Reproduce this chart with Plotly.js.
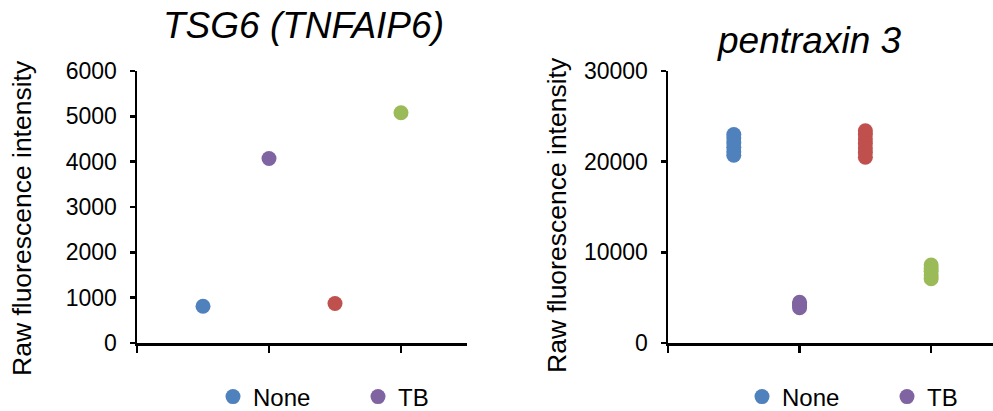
<!DOCTYPE html>
<html>
<head>
<meta charset="utf-8">
<script src="https://cdn.plot.ly/plotly-3.0.1.min.js"></script>
<style>html,body{margin:0;padding:0;background:#fff;}#chart{width:993px;height:411px;}</style>
</head>
<body>
<div id="chart"></div>
<script>
// ---- data ----
const groupNames = ["None", "TB", "None (group 2)", "TB (group 2)"];
const groupX = [0.5, 1, 1.5, 2];
const groupColors = ["#4F81BD", "#8064A2", "#C0504D", "#9BBB59"];
const legendShown = [true, true, false, false];

const tsg6Title = "TSG6 (TNFAIP6)";
const tsg6None = [810];
const tsg6TB = [4070];
const tsg6Group3 = [870];
const tsg6Group4 = [5080];

const ptx3Title = "pentraxin 3";
const ptx3None = [23000, 22600, 22100, 21600, 21100, 20700];
const ptx3TB = [4500, 4300, 4100, 3900];
const ptx3Group3 = [23400, 23000, 22500, 22000, 21500, 21000, 20500];
const ptx3Group4 = [8600, 8200, 7900, 7500, 7100];

const yTitle = "Raw fluorescence intensity";
const tsg6Ticks = [0, 1000, 2000, 3000, 4000, 5000, 6000];
const ptx3Ticks = [0, 10000, 20000, 30000];

// ---- build traces ----
const FONT = "Liberation Sans, Arial, sans-serif";
const traces = [];
const tsg6Sets = [tsg6None, tsg6TB, tsg6Group3, tsg6Group4];
const ptx3Sets = [ptx3None, ptx3TB, ptx3Group3, ptx3Group4];
tsg6Sets.forEach((vals, i) => {
  traces.push({
    type: "scatter", mode: "markers", name: groupNames[i],
    x: vals.map(() => groupX[i]), y: vals,
    xaxis: "x", yaxis: "y",
    marker: {color: groupColors[i], size: 15},
    showlegend: legendShown[i], legend: "legend"
  });
});
ptx3Sets.forEach((vals, i) => {
  traces.push({
    type: "scatter", mode: "markers", name: groupNames[i],
    x: vals.map(() => groupX[i]), y: vals,
    xaxis: "x2", yaxis: "y2",
    marker: {color: groupColors[i], size: 15},
    showlegend: legendShown[i], legend: "legend2"
  });
});

const W = 993, H = 411;
const px = v => v / W;
const py = v => (H - v) / H;

const xCommon = {
  showgrid: false, zeroline: false, showline: true, linecolor: "#000", linewidth: 2.5,
  ticks: "outside", ticklen: 7, tickwidth: 2.5, tickcolor: "#000",
  tickvals: [0, 1, 2], showticklabels: false, fixedrange: true
};
const yCommon = {
  showgrid: false, zeroline: false, showline: true, linecolor: "#000", linewidth: 2.5,
  ticks: "outside", ticklen: 5, tickwidth: 2.5, tickcolor: "#000",
  tickfont: {family: FONT, size: 23, color: "#000"}, ticklabelstandoff: 8,
  tickformat: "d", fixedrange: true
};
const legendCommon = {
  orientation: "h", font: {family: FONT, size: 24, color: "#000"},
  entrywidth: 100, entrywidthmode: "pixels", itemwidth: 30,
  bgcolor: "rgba(0,0,0,0)", xanchor: "left", yanchor: "middle"
};

const layout = {
  width: W, height: H,
  margin: {l: 0, r: 0, t: 0, b: 0, autoexpand: false},
  paper_bgcolor: "#fff", plot_bgcolor: "#fff",
  font: {family: FONT, color: "#000"},
  xaxis: Object.assign({}, xCommon, {domain: [px(137), px(467)], range: [0, 2.5], anchor: "y"}),
  yaxis: Object.assign({}, yCommon, {domain: [py(343), py(71)], range: [0, 6000], tickvals: tsg6Ticks, anchor: "x"}),
  xaxis2: Object.assign({}, xCommon, {domain: [px(668), 1], range: [0, 2.47], anchor: "y2"}),
  yaxis2: Object.assign({}, yCommon, {domain: [py(343), py(71)], range: [0, 30000], tickvals: ptx3Ticks, anchor: "x2"}),
  legend: Object.assign({}, legendCommon, {x: px(213), y: py(397)}),
  legend2: Object.assign({}, legendCommon, {x: px(742), y: py(397)}),
  annotations: [
    {text: tsg6Title, xref: "paper", yref: "paper", x: px(303), y: py(25), showarrow: false,
     font: {family: FONT, size: 37, style: "italic", color: "#000"}, xanchor: "center", yanchor: "middle"},
    {text: ptx3Title, xref: "paper", yref: "paper", x: px(809), y: py(41), showarrow: false,
     font: {family: FONT, size: 37, style: "italic", color: "#000"}, xanchor: "center", yanchor: "middle"},
    {text: yTitle, xref: "paper", yref: "paper", x: px(22), y: py(218), textangle: -90, showarrow: false,
     font: {family: FONT, size: 26.5, color: "#000"}, xanchor: "center", yanchor: "middle"},
    {text: yTitle, xref: "paper", yref: "paper", x: px(557), y: py(215), textangle: -90, showarrow: false,
     font: {family: FONT, size: 26.5, color: "#000"}, xanchor: "center", yanchor: "middle"}
  ]
};

Plotly.newPlot("chart", traces, layout, {displayModeBar: false, staticPlot: true});
</script>
</body>
</html>
